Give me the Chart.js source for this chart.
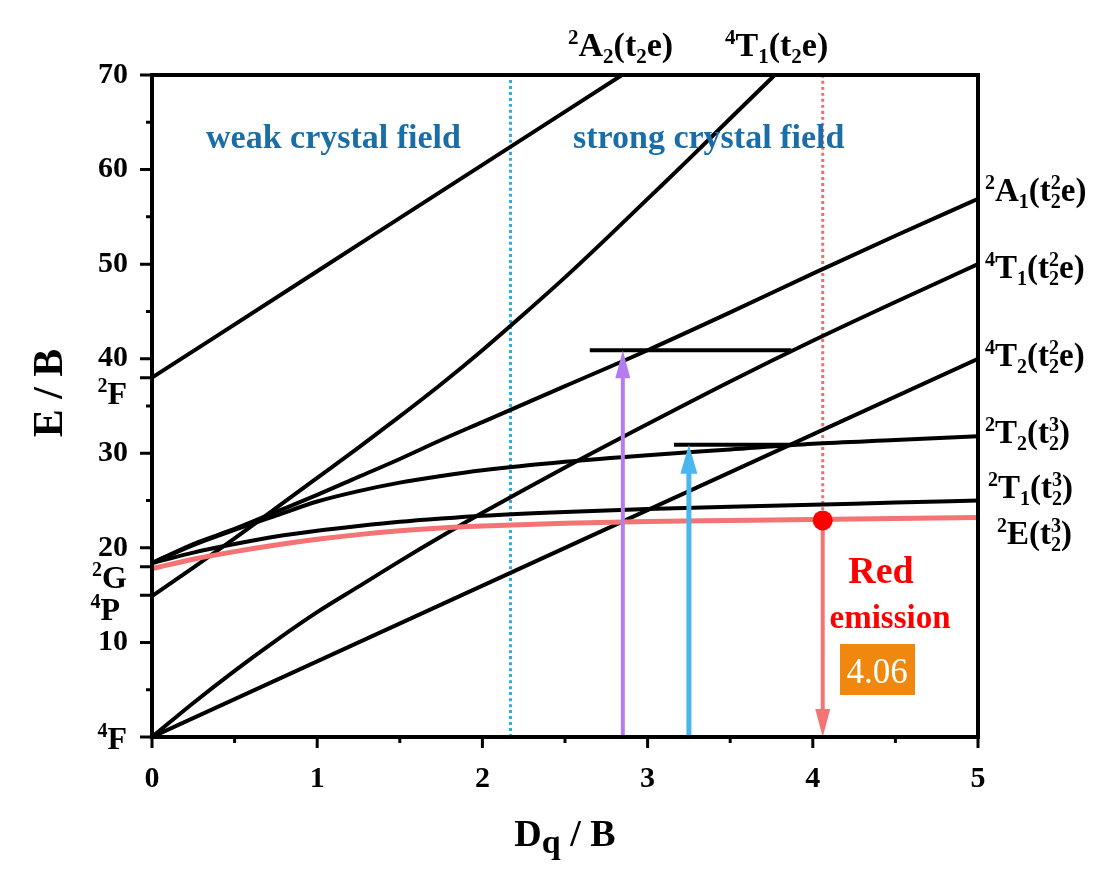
<!DOCTYPE html>
<html>
<head>
<meta charset="utf-8">
<script src="https://cdn.jsdelivr.net/npm/chart.js@4.4.1/dist/chart.umd.min.js"></script>
<style>
  html, body { margin: 0; padding: 0; background: #fff; }
</style>
</head>
<body>
<canvas id="chartTS" width="1100" height="872"></canvas>
<script>
// Dq/B values shared by most of the levels
const dq = [0, 0.25, 0.5, 0.75, 1, 1.25, 1.5, 1.75, 2, 2.5, 3, 3.5, 4, 4.5, 5];

// E/B of each term
const e2A1 = [18.4, 20.4, 22.0, 23.8, 25.6, 27.5, 29.4, 31.4, 33.3, 37.1, 40.9, 44.9, 49.0, 53.0, 56.9];
const e2T2 = [18.4, 20.3, 21.9, 23.4, 24.9, 26.0, 26.9, 27.6, 28.2, 29.1, 29.8, 30.4, 31.0, 31.4, 31.8];
const e2T1 = [18.4, 19.5, 20.4, 21.2, 21.8, 22.3, 22.75, 23.1, 23.4, 23.8, 24.1, 24.35, 24.55, 24.8, 25.0];
const e2E = [17.8, 18.8, 19.6, 20.3, 20.9, 21.4, 21.8, 22.1, 22.3, 22.6, 22.8, 22.9, 23.0, 23.1, 23.2];
const e4T1t2e2 = [0, 3.6, 7.0, 10.2, 13.2, 15.9, 18.6, 21.2, 23.7, 28.5, 33.1, 37.6, 41.9, 46.0, 50.0];

const dq4T2 = [0, 5];
const e4T2 = [0, 40];

const dq2A2 = [0, 1, 2, 2.845];
const e2A2 = [38, 49.25, 60.5, 70];

const dq4T1t2e = [0, 0.25, 0.5, 0.75, 1, 1.25, 1.5, 1.75, 2, 2.25, 2.5, 2.75, 3, 3.25, 3.5, 3.77];
const e4T1t2e = [14.9, 17.9, 21.0, 24.2, 27.4, 30.6, 33.9, 37.3, 40.9, 44.7, 48.6, 52.7, 56.9, 61.1, 65.4, 70];

// excitation levels (horizontal bars) and arrows
const nivelMorado = { x: [2.65, 3.87], y: 40.9 };
const nivelAzul = { x: [3.16, 3.88], y: 30.9 };
const flechaMorada = { x: 2.85, desde: 0, hasta: 40.9 };
const flechaAzul = { x: 3.25, desde: 0, hasta: 30.9 };
const flechaRoja = { x: 4.06, desde: 22.9, hasta: 0 };
const limiteCampo = 2.17;
const puntoEmision = { x: 4.06, y: 22.9 };

// axes
const yTicks = [0, 5, 10, 15, 18, 20, 25, 30, 35, 38, 40, 45, 50, 55, 60, 65, 70];
const yTicksLargos = [0, 10, 15, 18, 20, 30, 38, 40, 50, 60, 70];
const yEtiquetas = [10, 20, 30, 40, 50, 60, 70];
const xTicks = [0, 1, 2, 3, 4, 5];
const xTicksMenores = [0.5, 1.5, 2.5, 3.5, 4.5];

const SERIF = "'Liberation Serif', 'Times New Roman', serif";

function puntos(xs, ys) {
    return xs.map((v, i) => ({ x: v, y: ys[i] }));
}

function linea(xs, ys, color, ancho, orden) {
    return {
        data: puntos(xs, ys),
        showLine: true,
        borderColor: color,
        borderWidth: ancho,
        pointRadius: 0,
        fill: false,
        cubicInterpolationMode: 'monotone',
        order: orden
    };
}

// texto con superindices / subindices (t₂² apilado)
function anchoRico(ctx, partes, size) {
    let w = 0;
    partes.forEach(([t, tipo]) => {
        if (tipo === 'n') {
            ctx.font = `bold ${size}px ${SERIF}`;
            w += ctx.measureText(t).width;
        } else {
            ctx.font = `bold ${Math.round(size * 0.62)}px ${SERIF}`;
            const trozos = t.split('|');
            w += Math.max(...trozos.map(s => ctx.measureText(s).width));
        }
    });
    return w;
}

function textoRico(ctx, partes, x, base, size, align) {
    let cx = align === 'right' ? x - anchoRico(ctx, partes, size) : x;
    const chico = Math.round(size * 0.62);
    ctx.textAlign = 'left';
    ctx.textBaseline = 'alphabetic';
    partes.forEach(([t, tipo]) => {
        if (tipo === 'n') {
            ctx.font = `bold ${size}px ${SERIF}`;
            ctx.fillText(t, cx, base);
            cx += ctx.measureText(t).width;
            return;
        }
        ctx.font = `bold ${chico}px ${SERIF}`;
        if (tipo === 'sup') {
            ctx.fillText(t, cx, base - size * 0.36);
            cx += ctx.measureText(t).width;
        } else if (tipo === 'sub') {
            ctx.fillText(t, cx, base + size * 0.2);
            cx += ctx.measureText(t).width;
        } else {
            const [sub, sup] = t.split('|');
            ctx.fillText(sub, cx, base + size * 0.2);
            ctx.fillText(sup, cx, base - size * 0.36);
            cx += Math.max(ctx.measureText(sub).width, ctx.measureText(sup).width);
        }
    });
}

function cabeza(ctx, px, py, dir, ancho, largo, color) {
    ctx.fillStyle = color;
    ctx.beginPath();
    ctx.moveTo(px, py);
    ctx.lineTo(px - ancho / 2, py + dir * largo);
    ctx.lineTo(px + ancho / 2, py + dir * largo);
    ctx.closePath();
    ctx.fill();
}

const decoracion = {
    id: 'decoracion',
    afterDraw(chart) {
        const { ctx, chartArea: a, scales: { x, y } } = chart;
        ctx.save();

        // cabezas de flecha
        cabeza(ctx, x.getPixelForValue(flechaMorada.x), y.getPixelForValue(flechaMorada.hasta), 1, 15, 28, '#b57cf0');
        cabeza(ctx, x.getPixelForValue(flechaAzul.x), y.getPixelForValue(flechaAzul.hasta), 1, 17, 29, '#4ab6ee');
        cabeza(ctx, x.getPixelForValue(flechaRoja.x), y.getPixelForValue(flechaRoja.hasta), -1, 15, 28, '#f47374');

        // marco
        ctx.strokeStyle = '#000';
        ctx.lineWidth = 4;
        ctx.strokeRect(a.left, a.top, a.right - a.left, a.bottom - a.top);

        // ticks del eje y
        ctx.lineWidth = 3;
        ctx.beginPath();
        yTicks.forEach(v => {
            const py = y.getPixelForValue(v);
            const largo = yTicksLargos.includes(v) ? 12 : 6;
            ctx.moveTo(a.left - largo, py);
            ctx.lineTo(a.left, py);
        });
        // ticks del eje x
        xTicks.forEach(v => {
            const px = x.getPixelForValue(v);
            ctx.moveTo(px, a.bottom);
            ctx.lineTo(px, a.bottom + 11);
        });
        xTicksMenores.forEach(v => {
            const px = x.getPixelForValue(v);
            ctx.moveTo(px, a.bottom);
            ctx.lineTo(px, a.bottom + 6);
        });
        ctx.stroke();

        ctx.fillStyle = '#000';
        // términos del ion libre (izquierda)
        textoRico(ctx, [['2', 'sup'], ['F', 'n']], 127, 404, 32, 'right');
        textoRico(ctx, [['2', 'sup'], ['G', 'n']], 127, 588, 32, 'right');
        textoRico(ctx, [['4', 'sup'], ['P', 'n']], 120, 620, 32, 'right');
        textoRico(ctx, [['4', 'sup'], ['F', 'n']], 127, 749, 32, 'right');

        // términos de campo fuerte (derecha)
        const xd = 985;
        const fd = 33;
        textoRico(ctx, [['2', 'sup'], ['A', 'n'], ['1', 'sub'], ['(t', 'n'], ['2|2', 'both'], ['e)', 'n']], xd, 201, fd, 'left');
        textoRico(ctx, [['4', 'sup'], ['T', 'n'], ['1', 'sub'], ['(t', 'n'], ['2|2', 'both'], ['e)', 'n']], xd, 278, fd, 'left');
        textoRico(ctx, [['4', 'sup'], ['T', 'n'], ['2', 'sub'], ['(t', 'n'], ['2|2', 'both'], ['e)', 'n']], xd, 366, fd, 'left');
        textoRico(ctx, [['2', 'sup'], ['T', 'n'], ['2', 'sub'], ['(t', 'n'], ['2|3', 'both'], [')', 'n']], xd, 443, fd, 'left');
        textoRico(ctx, [['2', 'sup'], ['T', 'n'], ['1', 'sub'], ['(t', 'n'], ['2|3', 'both'], [')', 'n']], xd + 3, 498, fd, 'left');
        textoRico(ctx, [['2', 'sup'], ['E', 'n'], ['(t', 'n'], ['2|3', 'both'], [')', 'n']], xd + 12, 544, fd, 'left');

        // términos arriba
        textoRico(ctx, [['2', 'sup'], ['A', 'n'], ['2', 'sub'], ['(t', 'n'], ['2', 'sub'], ['e)', 'n']], 568, 56, 34, 'left');
        textoRico(ctx, [['4', 'sup'], ['T', 'n'], ['1', 'sub'], ['(t', 'n'], ['2', 'sub'], ['e)', 'n']], 725, 56, 34, 'left');

        // regiones de campo
        ctx.fillStyle = '#1a6ea8';
        ctx.font = `bold 34px ${SERIF}`;
        ctx.textAlign = 'left';
        ctx.textBaseline = 'alphabetic';
        ctx.fillText('weak crystal field', 206, 148);
        ctx.fillText('strong crystal field', 573, 148);

        // emisión roja
        ctx.fillStyle = '#ff0000';
        ctx.textAlign = 'center';
        ctx.font = `bold 38px ${SERIF}`;
        ctx.fillText('Red', 881, 583);
        ctx.font = `bold 33px ${SERIF}`;
        ctx.fillText('emission', 890, 628);

        ctx.fillStyle = '#f0870f';
        ctx.fillRect(840, 644, 75, 51);
        ctx.fillStyle = '#fff';
        ctx.font = `35px ${SERIF}`;
        ctx.fillText('4.06', 877, 683);

        // títulos de ejes
        ctx.fillStyle = '#000';
        ctx.save();
        ctx.translate(62, 393);
        ctx.rotate(-Math.PI / 2);
        ctx.font = `bold 42px ${SERIF}`;
        ctx.textAlign = 'center';
        ctx.fillText('E / B', 0, 0);
        ctx.restore();

        const cxT = (a.left + a.right) / 2;
        ctx.font = `bold 38px ${SERIF}`;
        const wD = ctx.measureText('D').width;
        const wR = ctx.measureText(' / B').width;
        ctx.font = `bold 34px ${SERIF}`;
        const wQ = ctx.measureText('q').width;
        let tx = cxT - (wD + wQ + wR) / 2;
        ctx.textAlign = 'left';
        ctx.font = `bold 38px ${SERIF}`;
        ctx.fillText('D', tx, 846);
        ctx.font = `bold 34px ${SERIF}`;
        ctx.fillText('q', tx + wD, 853);
        ctx.font = `bold 38px ${SERIF}`;
        ctx.fillText(' / B', tx + wD + wQ, 846);

        ctx.restore();
    }
};

const ctx = document.getElementById('chartTS').getContext('2d');

window.graficaTS = new Chart(ctx, {
    type: 'scatter',
    data: {
        datasets: [
            // punto de emisión
            {
                data: [puntoEmision],
                pointRadius: 10,
                pointBackgroundColor: '#ff0000',
                pointBorderWidth: 0,
                showLine: false,
                order: 0
            },
            linea([flechaRoja.x, flechaRoja.x], [flechaRoja.desde, flechaRoja.hasta + 2], '#f47374', 4, 1),
            linea(dq, e2E, '#f47374', 5, 2),
            linea([flechaMorada.x, flechaMorada.x], [flechaMorada.desde, flechaMorada.hasta - 2], '#b57cf0', 4, 1),
            linea([flechaAzul.x, flechaAzul.x], [flechaAzul.desde, flechaAzul.hasta - 2], '#4ab6ee', 5, 1),
            linea(nivelMorado.x, [nivelMorado.y, nivelMorado.y], '#000', 4, 3),
            linea(nivelAzul.x, [nivelAzul.y, nivelAzul.y], '#000', 4, 3),
            linea(dq2A2, e2A2, '#000', 4, 3),
            linea(dq4T1t2e, e4T1t2e, '#000', 4, 3),
            linea(dq, e2A1, '#000', 4, 3),
            linea(dq, e4T1t2e2, '#000', 4, 3),
            linea(dq4T2, e4T2, '#000', 4, 3),
            linea(dq, e2T2, '#000', 4, 3),
            linea(dq, e2T1, '#000', 4, 3),
            Object.assign(linea([limiteCampo, limiteCampo], [0, 70], '#3aa8e0', 3, 4), { borderDash: [3, 3] }),
            Object.assign(linea([puntoEmision.x, puntoEmision.x], [70, puntoEmision.y], '#ee7070', 3, 4), { borderDash: [3, 3] })
        ]
    },
    options: {
        responsive: false,
        animation: false,
        layout: {
            padding: { top: 75, right: 122, left: 0, bottom: 0 }
        },
        plugins: {
            legend: { display: false },
            tooltip: { enabled: false }
        },
        scales: {
            x: {
                type: 'linear',
                min: 0,
                max: 5,
                afterFit: function (s) { s.height = 135; },
                afterBuildTicks: function (s) { s.ticks = xTicks.map(v => ({ value: v })); },
                grid: { display: false, drawTicks: true, tickLength: 12 },
                border: { display: false },
                ticks: {
                    padding: 12,
                    color: '#000',
                    maxRotation: 0,
                    autoSkip: false,
                    font: { family: SERIF, size: 30, weight: 'bold' }
                }
            },
            y: {
                type: 'linear',
                min: 0,
                max: 70,
                afterFit: function (s) { s.width = 152; },
                afterBuildTicks: function (s) { s.ticks = yTicks.map(v => ({ value: v })); },
                grid: { display: false, drawTicks: true, tickLength: 12 },
                border: { display: false },
                ticks: {
                    padding: 12,
                    color: '#000',
                    autoSkip: false,
                    font: { family: SERIF, size: 30, weight: 'bold' },
                    callback: function (value) {
                        return yEtiquetas.includes(value) ? String(value) : '';
                    }
                }
            }
        }
    },
    plugins: [decoracion]
});
</script>
</body>
</html>
